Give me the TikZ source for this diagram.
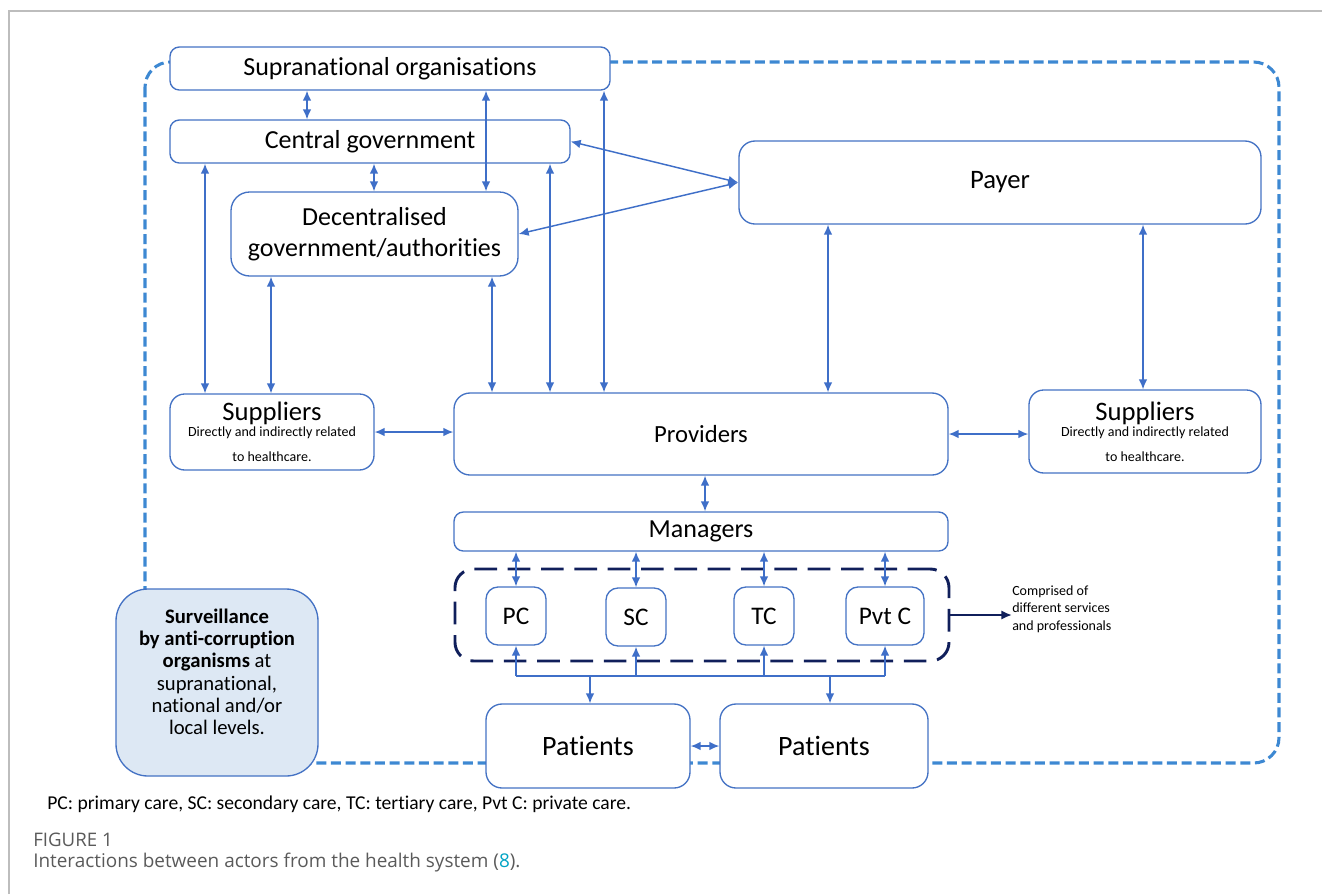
\documentclass[tikz,border=0pt]{standalone}
\usepackage{xcolor}
\usepackage{fontspec}
\setmainfont{Carlito}[Ligatures=NoCommon]
\newfontfamily\capfont{Open Sans}
\usepackage{tikz}
\usetikzlibrary{arrows,arrows.meta,positioning,shapes}
\usetikzlibrary{calc}

\definecolor{boxblue}{HTML}{4472C4}
\definecolor{linkblue}{HTML}{3F6FC8}
\definecolor{frameblue}{HTML}{3D88D2}
\definecolor{navy}{HTML}{101F5B}
\definecolor{survfill}{HTML}{DDE8F4}
\definecolor{capgray}{HTML}{5A5A5A}
\definecolor{pagegray}{HTML}{BDBDBD}
\definecolor{refteal}{HTML}{00A3C4}

\begin{document}
\begin{tikzpicture}[x=0.75pt,y=-0.75pt,
  every node/.style={align=center,inner sep=0pt},
  wd/.style={minimum width=#1*0.75pt},
  ht/.style={minimum height=#1*0.75pt},
  actor/.style={draw=boxblue,line width=1pt,rounded corners=7pt,fill=white,font=\fontsize{19.5}{23}\selectfont},
  care/.style={actor,rounded corners=9pt,minimum height=43.5pt,font=\fontsize{19}{22}\selectfont},
  supplier/.style={actor,rounded corners=11pt,font=\fontsize{10.5}{13}\selectfont},
  survbox/.style={draw=boxblue,line width=1pt,rounded corners=24pt,fill=survfill},
  frame/.style={draw=frameblue,line width=2.3pt,dash pattern=on 7.5pt off 3.5pt,rounded corners=19pt},
  group/.style={draw=navy,line width=2.2pt,dash pattern=on 17pt off 8pt,rounded corners=14pt},
  to/.style={<->,>={Latex[length=7.5pt,width=6.5pt]},draw=linkblue,line width=1.1pt},
  up/.style={->,>={Latex[length=7.5pt,width=6.5pt]},draw=linkblue,line width=1.1pt},
  link/.style={draw=linkblue,line width=1.1pt}]

    \useasboundingbox (0,0) rectangle (1322,894);
    \draw[pagegray,line width=1.5pt] (9,894) -- (9,11) -- (1322,11);

    \draw[frame] (145,62) rectangle (1279,763);

    \node[actor,wd=440,ht=43] (supra) at (390,68.5) {Supranational organisations};
    \node[actor,wd=400,ht=43] (central) at (370,141.5) {Central government};
    \node[actor,wd=287,ht=84,rounded corners=14pt] (decentral) at (374.5,234) {Decentralised\\government/authorities};
    \node[actor,wd=522,ht=83,rounded corners=12pt,font=\fontsize{20}{22}\selectfont] (payer) at (1000,182.5) {Payer};

    \node[supplier,wd=204,ht=76] (supL) at (272,432)
        {{\fontsize{20}{20}\selectfont Suppliers}\\[-1pt]Directly and indirectly related\\[6pt]to healthcare.};
    \node[actor,wd=494,ht=82,rounded corners=12pt,font=\fontsize{18.5}{22}\selectfont] (providers) at (701,434) {Providers};
    \node[supplier,wd=232,ht=83] (supR) at (1145,431.5)
        {{\fontsize{20}{20}\selectfont Suppliers}\\[-1pt]Directly and indirectly related\\[6pt]to healthcare.};

    \node[actor,wd=494,ht=39] (managers) at (701,531.5) {Managers};
    \node[group,wd=494,ht=92] (services) at (702,615) {};
    \node[care,wd=60] (pc) at (516,616) {PC};
    \node[care,wd=60] (sc) at (636,617) {SC};
    \node[care,wd=60] (tc) at (764,616) {TC};
    \node[care,wd=78] (pvt) at (885,616) {Pvt C};
    \node[anchor=west,font=\fontsize{10.5}{13.3}\selectfont,align=left] (comp) at (1012,609) {Comprised of\\different services\\and professionals};

    \node[actor,wd=204,ht=84,rounded corners=12pt,font=\fontsize{21}{24}\selectfont] (patL) at (588,746) {Patients};
    \node[actor,wd=208,ht=84,rounded corners=12pt,font=\fontsize{21}{24}\selectfont] (patR) at (824,746) {Patients};

    \node[survbox,wd=202,ht=187] (surv) at (217,682.5) {};
    \node[font=\fontsize{15.5}{16.6}\selectfont] (survtext) at ([yshift=8pt]surv.center)
        {\textbf{Surveillance}\\\textbf{by anti-corruption}\\\textbf{organisms} at\\supranational,\\national and/or\\local levels.};

    \draw[to] (307,0 |- supra.south) -- (307,0 |- central.north);
    \draw[to] (486,0 |- supra.south) -- (486,0 |- decentral.north);
    \draw[to] (604,0 |- supra.south) -- (604,0 |- providers.north);
    \draw[to] (374,0 |- central.south) -- (374,0 |- decentral.north);
    \draw[to] (205,0 |- central.south) -- (205,0 |- supL.north);
    \draw[to] (550,0 |- central.south) -- (550,0 |- providers.north);
    \draw[to] (271,0 |- decentral.south) -- (271,0 |- supL.north);
    \draw[to] (492,0 |- decentral.south) -- (492,0 |- providers.north);
    \draw[to] (central.east) -- (payer.west);
    \draw[to] (decentral.east) -- (payer.west);
    \draw[to] (828,0 |- payer.south) -- (828,0 |- providers.north);
    \draw[to] (1143,0 |- payer.south) -- (1143,0 |- supR.north);
    \draw[to] (supL.east) -- (supL.east -| providers.west);
    \draw[to] (providers.east) -- (providers.east -| supR.west);
    \draw[to] (705,0 |- providers.south) -- (705,0 |- managers.north);
    \foreach \c in {pc,sc,tc,pvt}
        \draw[to] (\c.north |- managers.south) -- (\c.north);

    \coordinate (bus) at (0,676);
    \draw[link] (pc.south |- bus) -- (pvt.south |- bus);
    \foreach \c in {pc,sc,tc,pvt}
        \draw[up] (\c.south |- bus) -- (\c.south);
    \draw[up] (590,0 |- bus) -- (590,0 |- patL.north);
    \draw[up] (830,0 |- bus) -- (830,0 |- patR.north);
    \draw[to] (patL.east) -- (patR.west);
    \draw[-{Latex[length=8pt,width=7pt]},navy,line width=1.8pt] (services.east) -- (comp.west |- services.east);

    \node[anchor=west,font=\fontsize{14.7}{16}\selectfont] (abbr) at (47,804)
        {PC: primary care, SC: secondary care, TC: tertiary care, Pvt C: private care.};
    \node[anchor=west,font=\capfont\fontsize{14}{16}\selectfont,text=capgray] (fig) at (33,840) {FIGURE 1};
    \node[anchor=west,font=\capfont\fontsize{14.2}{17}\selectfont,text=capgray] (cap) at (33,863)
        {Interactions between actors from the health system (\textcolor{refteal}{8}).};
\end{tikzpicture}
\end{document}
